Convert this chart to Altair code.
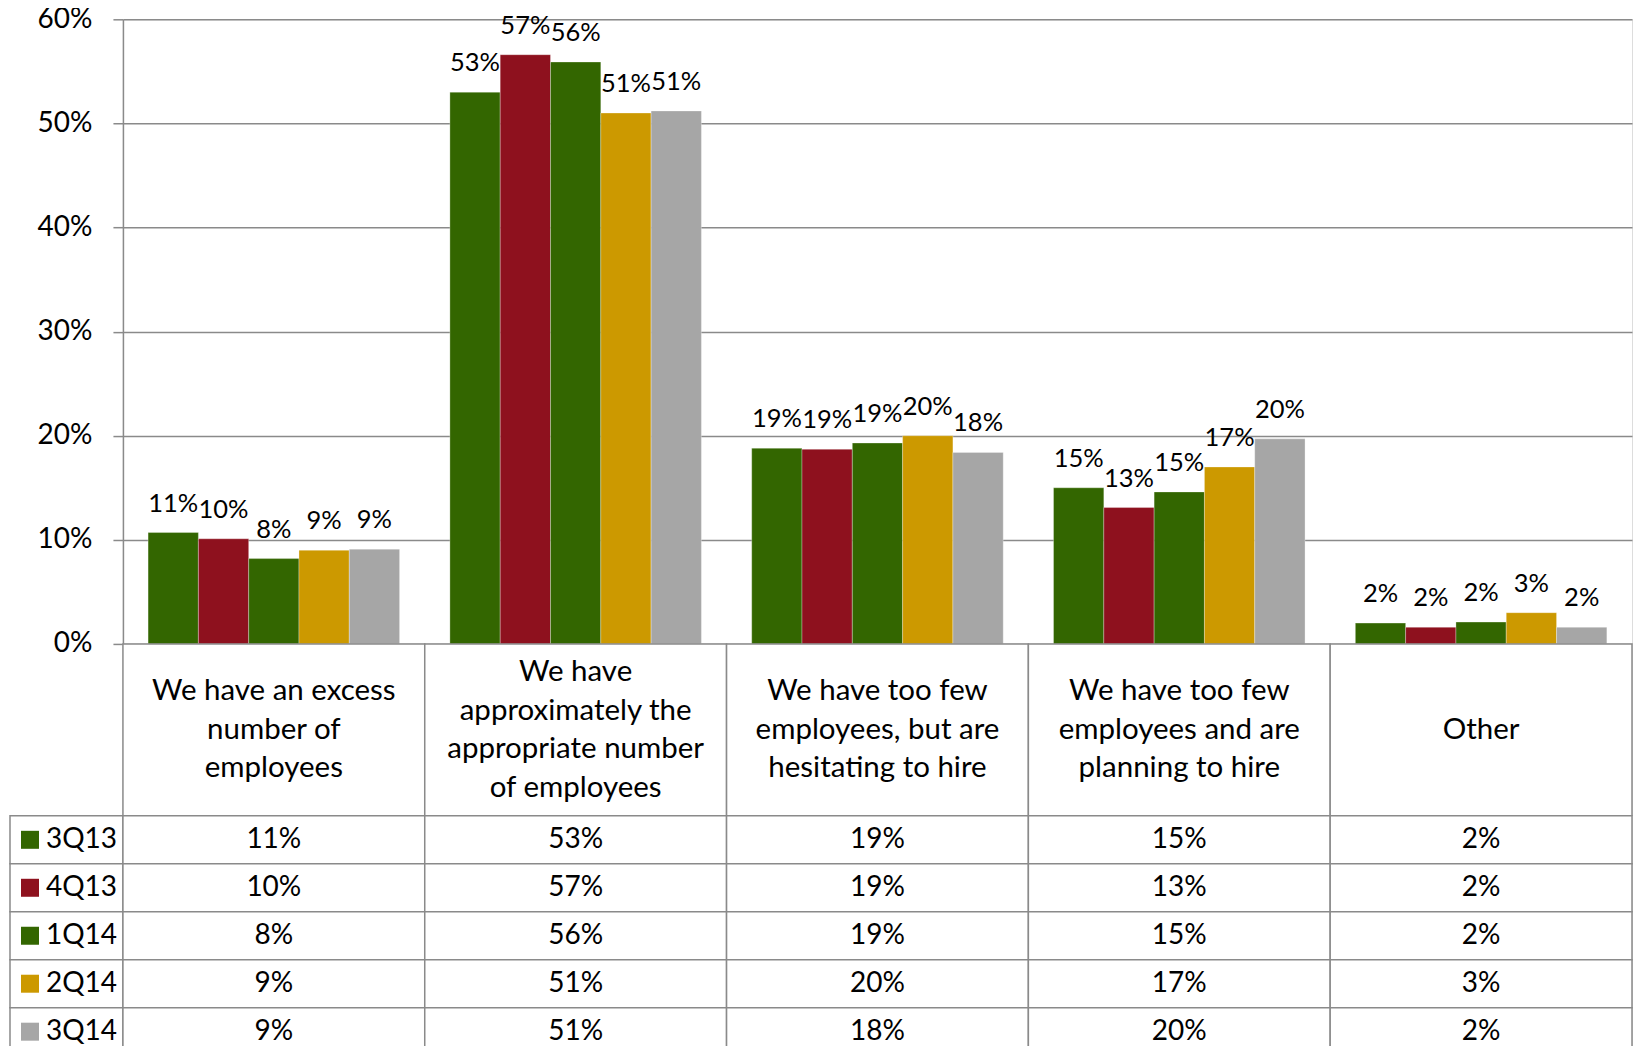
import altair as alt
import pandas as pd

categories = [
    "We have an excess number of employees",
    "We have approximately the appropriate number of employees",
    "We have too few employees, but are hesitating to hire",
    "We have too few employees and are planning to hire",
    "Other",
]
category_lines = [
    ["We have an excess", "number of", "employees"],
    ["We have", "approximately the", "appropriate number", "of employees"],
    ["We have too few", "employees, but are", "hesitating to hire"],
    ["We have too few", "employees and are", "planning to hire"],
    ["Other"],
]
series = ["3Q13", "4Q13", "1Q14", "2Q14", "3Q14"]
colors = ["#336600", "#8E111E", "#336600", "#CC9900", "#A6A6A6"]

v_3Q13 = [10.7, 53.0, 18.8, 15.0, 2.0]
v_4Q13 = [10.1, 56.6, 18.7, 13.1, 1.6]
v_1Q14 = [8.2, 55.9, 19.3, 14.6, 2.1]
v_2Q14 = [9.0, 51.0, 20.0, 17.0, 3.0]
v_3Q14 = [9.1, 51.2, 18.4, 19.7, 1.6]
y_ticks = [0, 10, 20, 30, 40, 50, 60]

values = [v_3Q13, v_4Q13, v_1Q14, v_2Q14, v_3Q14]
rows = []
for s, vals in zip(series, values):
    for c, v in zip(categories, vals):
        rows.append({"series": s, "category": c, "value": v})
df = pd.DataFrame(rows)

FONT = "Lato"
BORDER = "#8a8a8a"
W = 1510
HEADER_H = 172
ROW_H = 48
LINE_H = 38.5

color_enc = alt.Color("series:N", scale=alt.Scale(domain=series, range=colors), legend=None)
xcat = alt.X("category:N", sort=categories,
             scale=alt.Scale(paddingInner=0, paddingOuter=0), axis=None)
xoff = alt.XOffset("series:N", sort=series,
                   scale=alt.Scale(paddingInner=0, paddingOuter=0.5))

base = alt.Chart(df).transform_calculate(
    label="format(datum.value, '.0f') + '%'"
).encode(x=xcat, xOffset=xoff)

bars = base.mark_bar(stroke="#ffffff", strokeWidth=0.6, strokeOpacity=0.5).encode(
    y=alt.Y("value:Q", scale=alt.Scale(domain=[0, 60], nice=False),
            axis=alt.Axis(values=y_ticks, labelExpr="datum.value + '%'", title=None,
                          grid=True, gridColor=BORDER, gridWidth=1.5,
                          domainColor=BORDER, domainWidth=1.5,
                          tickColor=BORDER, tickWidth=1.5, tickSize=10,
                          labelPadding=21, labelFont=FONT, labelFontSize=28,
                          labelColor="#000000")),
    color=color_enc,
)
labels = base.mark_text(font=FONT, fontSize=25.5, dy=-21, baseline="alphabetic",
                        color="#000000").encode(y="value:Q", text="label:N")
top = alt.layer(bars, labels).properties(width=W, height=625)

# header cells: one row per text line, stacked around the cell centre
hrows = []
for c, lines in zip(categories, category_lines):
    n = len(lines)
    for i, t in enumerate(lines):
        hrows.append({"category": c, "text": t, "pos": (n - 1) / 2 - i})
hdf = pd.DataFrame(hrows)
half = HEADER_H / 2 / LINE_H
hrect = alt.Chart(pd.DataFrame({"category": categories})).mark_rect(
    fill="white", stroke=BORDER, strokeWidth=1.5).encode(x=xcat)
htext = alt.Chart(hdf).mark_text(font=FONT, fontSize=29.5, baseline="middle",
                                 color="#000000").encode(
    x=xcat,
    y=alt.Y("pos:Q", scale=alt.Scale(domain=[-half, half], nice=False, zero=False), axis=None),
    text="text:N")
header = alt.layer(hrect, htext).properties(width=W, height=HEADER_H)

ycat = alt.Y("series:N", sort=series,
             scale=alt.Scale(paddingInner=0, paddingOuter=0), axis=None)
bbase = alt.Chart(df).transform_calculate(
    label="format(datum.value, '.0f') + '%'"
).encode(x=xcat, y=ycat)
brect = bbase.mark_rect(fill="white", stroke=BORDER, strokeWidth=1.5)
btext = bbase.mark_text(font=FONT, fontSize=28, baseline="middle",
                        color="#000000").encode(text="label:N")

leg = alt.Chart(pd.DataFrame({"series": series})).encode(y=ycat)
lrect = leg.mark_rect(fill="white", stroke=BORDER, strokeWidth=1.5).encode(
    x=alt.value(-113), x2=alt.value(0))
lsq = leg.mark_square(size=324, opacity=1).encode(x=alt.value(-93), color=color_enc)
ltext = leg.mark_text(align="left", font=FONT, fontSize=28, baseline="middle",
                      color="#000000").encode(x=alt.value(-77), text="series:N")
body = alt.layer(lrect, brect, btext, lsq, ltext).properties(
    width=W, height=ROW_H * len(series))

chart = alt.vconcat(top, header, body, spacing=0, bounds="flush").properties(
    padding={"left": 0, "top": -4, "right": -1, "bottom": -12}
).configure_view(stroke=None).configure(background="white")

chart.save("out.html", embed_options={"renderer": "svg", "actions": False})
